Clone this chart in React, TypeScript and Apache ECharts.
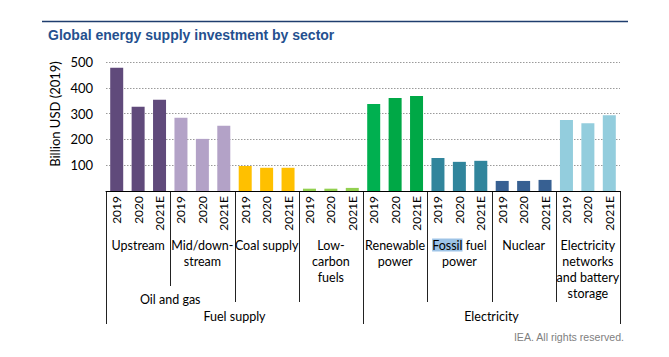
import React, { useEffect, useRef } from "react";
import * as echarts from "echarts";

const years = ["2019", "2020", "2021E"];
const sectors = [
  "Upstream",
  "Mid/down-\nstream",
  "Coal supply",
  "Low-\ncarbon\nfuels",
  "Renewable\npower",
  "{hl|Fossil} fuel\npower",
  "Nuclear",
  "Electricity\nnetworks\nand battery\nstorage",
];
const upstream = [478, 327, 354];
const midDownstream = [284, 202, 253];
const coalSupply = [97, 90, 90];
const lowCarbonFuels = [9, 9, 12];
const renewablePower = [337, 360, 368];
const fossilFuelPower = [128, 113, 117];
const nuclear = [39, 39, 43];
const networksStorage = [275, 263, 294];
const sectorValues = [
  upstream,
  midDownstream,
  coalSupply,
  lowCarbonFuels,
  renewablePower,
  fossilFuelPower,
  nuclear,
  networksStorage,
];
const sectorColors = [
  ["#604a7b", "#604a7b", "#604a7b"],
  ["#b3a2c7", "#b3a2c7", "#b3a2c7"],
  ["#ffc000", "#ffc000", "#ffc000"],
  ["#92d050", "#92d050", "#92d050"],
  ["#00b050", "#00a846", "#00a846"],
  ["#31859c", "#31859c", "#31859c"],
  ["#376092", "#376092", "#376092"],
  ["#93cddd", "#93cddd", "#93cddd"],
];
const subGroups = [{ name: "Oil and gas", first: 0, last: 1 }];
const topGroups = [
  { name: "Fuel supply", first: 0, last: 3 },
  { name: "Electricity", first: 4, last: 7 },
];
const yMax = 500;
const yInterval = 100;
const titleText = "Global energy supply investment by sector";
const yName = "Billion USD (2019)";
const credit = "IEA. All rights reserved.";

const FONT = "Lato";

export default function App() {
  const ref = useRef<HTMLDivElement>(null);
  useEffect(() => {
    if (!ref.current) return;
    const chart = echarts.init(ref.current, undefined, { renderer: "svg" });
    const categories: string[] = [];
    const data: any[] = [];
    sectorValues.forEach((vals, s) => {
      vals.forEach((v, i) => {
        categories.push(years[i]);
        data.push({ value: v, itemStyle: { color: sectorColors[s][i] } });
      });
    });
    chart.setOption({
      animation: false,
      title: {
        text: titleText,
        left: 43,
        top: 23,
        textStyle: {
          fontFamily: "Liberation Sans",
          fontWeight: "bold",
          fontSize: 14,
          color: "#24508f",
        },
      },
      grid: { left: 106, right: 49, top: 62, bottom: 166, containLabel: false },
      xAxis: {
        type: "category",
        data: categories,
        axisLine: { show: true, lineStyle: { color: "#000", width: 1 } },
        axisTick: { show: false },
        axisLabel: {
          interval: 0,
          rotate: 90,
          margin: 5,
          fontFamily: FONT,
          fontSize: 12,
          color: "#000",
        },
      },
      yAxis: {
        type: "value",
        min: 0,
        max: yMax,
        interval: yInterval,
        axisLine: { show: false },
        axisTick: { show: false },
        axisLabel: {
          margin: 13,
          fontFamily: FONT,
          fontSize: 13,
          color: "#000",
          formatter: (v: number) => (v === 0 ? "" : String(v)),
        },
        splitLine: {
          show: true,
          lineStyle: { color: "#9a9a9a", type: [1.5, 1.5], width: 1 },
        },
      },
      series: [
        {
          type: "bar",
          data,
          barWidth: 13,
        },
      ],
    });

    const x0 = chart.convertToPixel({ xAxisIndex: 0 }, 0) as number;
    const x1 = chart.convertToPixel({ xAxisIndex: 0 }, 1) as number;
    const w = x1 - x0;
    const n = years.length;
    const bx = (k: number) => x0 - w / 2 + k * n * w;
    const yBase = chart.convertToPixel({ yAxisIndex: 0 }, 0) as number;

    const elements: any[] = [];
    elements.push({
      type: "line",
      shape: { x1: 42, y1: 21.5, x2: 628, y2: 21.5 },
      style: { stroke: "#1f3d6e", lineWidth: 1.5 },
    });
    const isTop = (k: number) =>
      topGroups.some((g) => g.first === k || g.last + 1 === k);
    const inSub = (k: number) => subGroups.some((g) => k > g.first && k <= g.last);
    for (let k = 0; k <= sectors.length; k++) {
      const yEnd = isTop(k) ? 324 : inSub(k) ? 286 : 302;
      const x = Math.round(bx(k)) + 0.5;
      elements.push({
        type: "line",
        shape: { x1: x, y1: yBase, x2: x, y2: yEnd },
        style: { stroke: "#222", lineWidth: 1 },
      });
    }
    sectors.forEach((s, i) => {
      elements.push({
        type: "text",
        x: (bx(i) + bx(i + 1)) / 2,
        y: 237,
        style: {
          text: s,
          fontFamily: FONT,
          fontSize: 12.5,
          lineHeight: 16,
          fill: "#000",
          align: "center",
          verticalAlign: "top",
          rich: {
            hl: {
              backgroundColor: "#9dc3e6",
              fontFamily: FONT,
              fontSize: 12.5,
              lineHeight: 16,
              color: "#000",
            },
          },
        },
      });
    });
    subGroups.forEach((g) => {
      elements.push({
        type: "text",
        x: (bx(g.first) + bx(g.last + 1)) / 2,
        y: 299,
        style: {
          text: g.name,
          fontFamily: FONT,
          fontSize: 12.5,
          fill: "#000",
          align: "center",
          verticalAlign: "middle",
        },
      });
    });
    topGroups.forEach((g) => {
      elements.push({
        type: "text",
        x: (bx(g.first) + bx(g.last + 1)) / 2,
        y: 316,
        style: {
          text: g.name,
          fontFamily: FONT,
          fontSize: 12.5,
          fill: "#000",
          align: "center",
          verticalAlign: "middle",
        },
      });
    });
    elements.push({
      type: "text",
      x: 55,
      y: 114,
      rotation: Math.PI / 2,
      style: {
        text: yName,
        fontFamily: FONT,
        fontSize: 13,
        fill: "#000",
        align: "center",
        verticalAlign: "middle",
      },
    });
    elements.push({
      type: "text",
      x: 624,
      y: 337,
      style: {
        text: credit,
        fontFamily: "Liberation Sans",
        fontSize: 10.6,
        fill: "#808080",
        align: "right",
        verticalAlign: "middle",
      },
    });
    chart.setOption({ graphic: { elements } });

    return () => chart.dispose();
  }, []);
  return (
    <div
      ref={ref}
      style={{ position: "fixed", left: 0, top: 0, width: 669, height: 357, background: "#fff" }}
    />
  );
}
